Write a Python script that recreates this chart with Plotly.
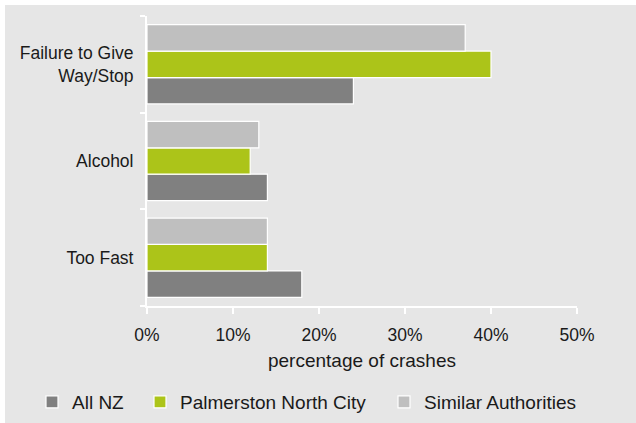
import plotly.graph_objects as go

categories = ["Too Fast", "Alcohol", "Failure to Give<br>Way/Stop"]
all_nz = [18, 14, 24]
palmerston = [14, 12, 40]
similar = [14, 13, 37]
series_names = ["All NZ", "Palmerston North City", "Similar Authorities"]
colors = ["#808080", "#acc419", "#bfbfbf"]
x_ticks = [0, 10, 20, 30, 40, 50]
x_tick_labels = ["0%", "10%", "20%", "30%", "40%", "50%"]

BG = "#e6e6e6"
FONT = "Liberation Sans, Arial, sans-serif"
FS = 17.5
FS_BIG = 19

W, H = 636, 423
ml, mr, mt, mb = 147, 59, 16, 117
pw, ph = W - ml - mr, H - mt - mb

legend_ids = ["legend", "legend2", "legend3"]
legend_px = [32, 140, 384]

fig = go.Figure()
for name, vals, col, lid in zip(series_names, [all_nz, palmerston, similar], colors, legend_ids):
    fig.add_trace(go.Bar(
        y=categories, x=vals, name=name, orientation="h",
        marker=dict(color=col, line=dict(color="white", width=1.2)),
        legend=lid,
    ))

# white page border strips on top and left (page background is grey)
fig.add_shape(type="rect", xref="paper", yref="paper",
              x0=-ml / pw - 0.01, x1=(W - ml) / pw + 0.01,
              y0=1 + (mt - 5) / ph, y1=1 + mt / ph + 0.01,
              fillcolor="white", line=dict(width=0), layer="below")
fig.add_shape(type="rect", xref="paper", yref="paper",
              x0=-ml / pw - 0.01, x1=(5 - ml) / pw,
              y0=-(H - mt - ph) / ph - 0.01, y1=1 + mt / ph + 0.01,
              fillcolor="white", line=dict(width=0), layer="below")

legend_common = dict(orientation="h", xanchor="left", y=(306 - 402) / ph, yanchor="middle",
                     bgcolor="rgba(0,0,0,0)", font=dict(size=FS_BIG), itemwidth=30)

fig.update_layout(
    width=W, height=H,
    margin=dict(l=ml, r=mr, t=mt, b=mb, pad=0, autoexpand=False),
    paper_bgcolor=BG, plot_bgcolor=BG,
    barmode="group", bargap=0.18, bargroupgap=0,
    font=dict(family=FONT, size=FS, color="#1a1a1a"),
    xaxis=dict(
        range=[0, 50], tickmode="array", tickvals=x_ticks, ticktext=x_tick_labels,
        showgrid=False, zeroline=False,
        showline=True, linecolor="white", linewidth=2,
        ticks="outside", ticklen=6, tickcolor="white", tickwidth=2,
        title=dict(text="percentage of crashes", standoff=10, font=dict(size=FS_BIG)),
        ticklabelstandoff=6,
    ),
    yaxis=dict(
        showgrid=False, zeroline=False,
        showline=True, linecolor="white", linewidth=2,
        ticks="outside", ticklen=5, tickcolor="white", tickwidth=2,
        tickson="boundaries", ticklabelstandoff=8,
    ),
    legend=dict(x=(legend_px[0] - ml) / pw, **legend_common),
    legend2=dict(x=(legend_px[1] - ml) / pw, **legend_common),
    legend3=dict(x=(legend_px[2] - ml) / pw, **legend_common),
    showlegend=True,
)

fig.write_html("out.html")
